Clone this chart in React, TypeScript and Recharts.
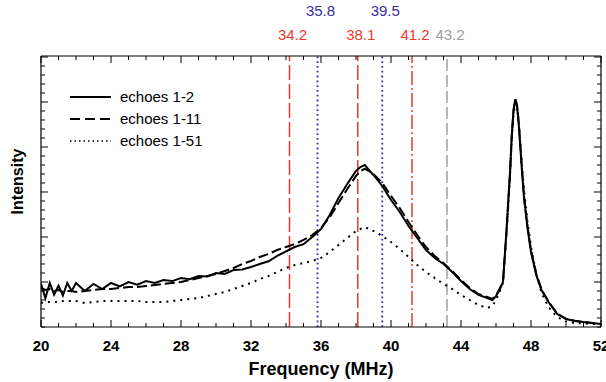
import React from 'react';
import { LineChart, Line, XAxis, YAxis, ReferenceLine, Legend } from 'recharts';

// Frequency grid (MHz)
const frequency = [
  20, 20.25, 20.5, 20.75, 21, 21.25, 21.5, 21.75,
  22, 22.5, 23, 23.5, 24, 24.5, 25, 25.5, 26, 26.5, 27, 27.5, 28, 28.5, 29, 29.5,
  30, 30.5, 31, 31.5, 32, 32.5, 33, 33.5, 34, 34.5, 35, 35.5, 36, 36.5, 37, 37.5, 38,
  38.25, 38.5, 38.75,
  39, 39.5, 40, 40.5, 41, 41.5, 42, 42.5, 43, 43.5, 44, 44.5, 45, 45.5,
  45.8, 46, 46.2, 46.4, 46.6, 46.8, 46.9,
  47, 47.1, 47.2, 47.3, 47.4, 47.5, 47.6, 47.8,
  48, 48.3, 48.6, 49, 49.5, 50, 50.5, 51, 51.5, 52,
];

// Intensity (arbitrary units)
const echoes1to2 = [
  4.8, 3.2, 4.9, 3.6, 4.6, 3.5, 4.9, 4.0,
  4.89, 4.0, 4.78, 4.22, 4.89, 4.5, 5.0, 4.7, 5.11, 4.9, 5.22, 5.1, 5.44, 5.3, 5.67, 5.6,
  6.0, 5.9, 6.33, 6.4, 6.67, 7.0, 7.3, 7.89, 8.4, 8.89, 9.2, 10.0, 10.89, 12.44, 14.33, 15.89, 17.33,
  17.78, 18.0, 17.44,
  16.89, 15.67, 14.11, 12.78, 11.22, 9.89, 8.56, 7.67, 7.0, 6.11, 5.11, 4.22, 3.56, 3.22,
  3.0, 3.44, 4.11, 5.0, 10.8, 17.2, 21.3,
  24.1, 25.3, 24.6, 22.5, 19.67, 16.89, 14.33, 11.0,
  8.33, 5.78, 4.11, 2.78, 1.44, 0.89, 0.67, 0.56, 0.44, 0.33,
];

const echoes1to11 = [
  4.33, 4.11, 4.22, 4.0, 4.11, 3.89, 4.0, 4.0,
  3.89, 4.0, 4.11, 4.22, 4.22, 4.33, 4.44, 4.44, 4.56, 4.67, 4.78, 4.89, 5.0, 5.22, 5.44, 5.67,
  5.89, 6.22, 6.56, 7.0, 7.33, 7.78, 8.11, 8.56, 8.89, 9.22, 9.67, 10.22, 11.0, 12.22, 13.78, 15.33, 16.78,
  17.33, 17.56, 17.33,
  17.0, 16.0, 14.56, 13.22, 11.67, 10.22, 8.89, 7.89, 7.11, 6.22, 5.22, 4.33, 3.67, 3.33,
  3.11, 3.56, 4.22, 5.1, 10.6, 17.0, 21.1,
  24.0, 25.3, 24.7, 22.7, 19.9, 17.1, 14.6, 11.2,
  8.5, 5.9, 4.2, 2.8, 1.5, 0.9, 0.7, 0.56, 0.44, 0.33,
];

const echoes1to51 = [
  2.67, 2.78, 2.78, 2.78, 2.78, 2.89, 2.89, 2.89,
  2.89, 2.67, 2.78, 2.89, 2.89, 2.89, 2.89, 2.89, 2.78, 2.78, 2.78, 2.89, 3.0, 3.11, 3.22, 3.44,
  3.67, 3.89, 4.22, 4.56, 4.89, 5.33, 5.67, 6.11, 6.56, 6.89, 7.11, 7.33, 7.67, 8.33, 9.11, 9.89, 10.67,
  10.89, 11.11, 10.89,
  10.67, 10.11, 9.44, 8.67, 7.78, 6.89, 6.11, 5.44, 4.78, 4.22, 3.56, 3.0, 2.44, 2.11,
  2.33, 3.0, 3.89, 4.9, 10.3, 16.6, 20.8,
  23.6, 24.9, 24.5, 22.8, 20.3, 17.6, 15.2, 11.7,
  8.9, 5.9, 3.8, 2.2, 1.1, 0.6, 0.44, 0.4, 0.33, 0.33,
];

const seriesNames = ['echoes 1-2', 'echoes 1-11', 'echoes 1-51'];

// Marker frequencies (MHz)
const redMarkers = [34.2, 38.1, 41.2];
const blueMarkers = [35.8, 39.5];
const grayMarkers = [43.2];

const xDomain: [number, number] = [20, 52];
const xLabelTicks = [20, 24, 28, 32, 36, 40, 44, 48, 52];
const yDomain: [number, number] = [0, 30.11];

const xTicks: number[] = [];
for (let v = xDomain[0]; v <= xDomain[1]; v += 1) xTicks.push(v);
const yTicks: number[] = [];
for (let v = 0; v <= 30; v += 1) yTicks.push(v);

const data = frequency.map((f, i) => ({
  f,
  a: echoes1to2[i],
  b: echoes1to11[i],
  c: echoes1to51[i],
}));

const FONT = '"Liberation Sans", Arial, Helvetica, sans-serif';
const RED = '#e63b30';
const BLUE = '#3a2ca6';
const GRAY = '#a0a0a0';

const BottomTick = (props: any) => {
  const { x, y, payload } = props;
  const v = payload.value;
  const major = xLabelTicks.includes(v);
  return (
    <g>
      <line x1={x} x2={x} y1={y} y2={y - (major ? 7 : 4)} stroke="#000" strokeWidth={1} />
      {major && (
        <text x={x} y={y + 24} textAnchor="middle" fontSize={15} fontWeight="bold" fontFamily={FONT} fill="#000">
          {v}
        </text>
      )}
    </g>
  );
};

const TopTick = (props: any) => {
  const { x, y, payload } = props;
  const major = xLabelTicks.includes(payload.value);
  return <line x1={x} x2={x} y1={y} y2={y + (major ? 7 : 4)} stroke="#000" strokeWidth={1} />;
};

const LeftTick = (props: any) => {
  const { x, y, payload } = props;
  const major = payload.value % 5 === 0 && payload.value > 0;
  return <line x1={x} x2={x + (major ? 7 : 4)} y1={y} y2={y} stroke="#000" strokeWidth={1} />;
};

const RightTick = (props: any) => {
  const { x, y, payload } = props;
  const major = payload.value % 5 === 0 && payload.value > 0;
  return <line x1={x} x2={x - (major ? 7 : 4)} y1={y} y2={y} stroke="#000" strokeWidth={1} />;
};

const MarkerLabel = (props: any) => {
  const { viewBox, text, color, rise } = props;
  if (!viewBox) return null;
  const top = Math.min(viewBox.y, viewBox.y + (viewBox.height || 0));
  return (
    <text x={viewBox.x + 3} y={top - rise} textAnchor="middle" fontSize={15} fontFamily={FONT} fill={color}>
      {text}
    </text>
  );
};

const YTitle = (props: any) => {
  const { viewBox } = props;
  if (!viewBox) return null;
  const cx = 17;
  const cy = viewBox.y + viewBox.height / 2 - 10;
  return (
    <text
      x={cx}
      y={cy}
      transform={`rotate(-90 ${cx} ${cy})`}
      textAnchor="middle"
      dominantBaseline="central"
      fontSize={16}
      fontWeight="bold"
      fontFamily={FONT}
      fill="#000"
    >
      Intensity
    </text>
  );
};

const XTitle = (props: any) => {
  const { viewBox } = props;
  if (!viewBox) return null;
  return (
    <text
      x={viewBox.x + viewBox.width / 2}
      y={viewBox.y + 48}
      textAnchor="middle"
      fontSize={18}
      fontWeight="bold"
      fontFamily={FONT}
      fill="#000"
    >
      Frequency (MHz)
    </text>
  );
};

const LegendContent = () => {
  const styles = [
    { dash: undefined, width: 2 },
    { dash: '10 5', width: 2 },
    { dash: '1.5 3', width: 1.5 },
  ];
  return (
    <svg width={170} height={70} style={{ display: 'block', overflow: 'visible' }}>
      {seriesNames.map((name, i) => (
        <g key={name}>
          <line
            x1={10}
            x2={51}
            y1={12 + i * 22}
            y2={12 + i * 22}
            stroke="#000"
            strokeWidth={styles[i].width}
            strokeDasharray={styles[i].dash}
          />
          <text x={60} y={12 + i * 22 + 5} fontSize={15} fontFamily={FONT} fill="#000">
            {name}
          </text>
        </g>
      ))}
    </svg>
  );
};

export default function App() {
  return (
    <div style={{ position: 'absolute', left: 0, top: 0, width: 606, height: 382, background: '#fff' }}>
      <LineChart width={606} height={382} data={data} margin={{ top: 55, right: 4, bottom: 0, left: 40 }}>
        <XAxis
          xAxisId="bottom"
          dataKey="f"
          type="number"
          domain={xDomain}
          ticks={xTicks}
          interval={0}
          allowDataOverflow
          height={55}
          tickLine={false}
          tickSize={0}
          tickMargin={0}
          tick={<BottomTick />}
          axisLine={{ stroke: '#000', strokeWidth: 1.2 }}
          label={<XTitle />}
        />
        <XAxis
          xAxisId="top"
          orientation="top"
          dataKey="f"
          type="number"
          domain={xDomain}
          ticks={xTicks}
          interval={0}
          allowDataOverflow
          height={1}
          tickLine={false}
          tickSize={0}
          tickMargin={0}
          tick={<TopTick />}
          axisLine={{ stroke: '#000', strokeWidth: 1.2 }}
        />
        <YAxis
          yAxisId="left"
          type="number"
          domain={yDomain}
          ticks={yTicks}
          interval={0}
          allowDataOverflow
          width={1}
          tickLine={false}
          tickSize={0}
          tickMargin={0}
          tick={<LeftTick />}
          axisLine={{ stroke: '#000', strokeWidth: 1.2 }}
          label={<YTitle />}
        />
        <YAxis
          yAxisId="right"
          orientation="right"
          type="number"
          domain={yDomain}
          ticks={yTicks}
          interval={0}
          allowDataOverflow
          width={1}
          tickLine={false}
          tickSize={0}
          tickMargin={0}
          tick={<RightTick />}
          axisLine={{ stroke: '#000', strokeWidth: 1.2 }}
        />
        {redMarkers.map((m, i) => (
          <ReferenceLine
            key={'r' + m}
            xAxisId="bottom"
            yAxisId="left"
            x={m}
            stroke={RED}
            strokeWidth={1.5}
            strokeDasharray={i === 2 ? '14 3 2 3' : '15 4'}
            label={<MarkerLabel text={m.toFixed(1)} color={RED} rise={16} />}
          />
        ))}
        {blueMarkers.map((m) => (
          <ReferenceLine
            key={'b' + m}
            xAxisId="bottom"
            yAxisId="left"
            x={m}
            stroke={BLUE}
            strokeWidth={1.8}
            strokeDasharray="1.8 3"
            label={<MarkerLabel text={m.toFixed(1)} color={BLUE} rise={40} />}
          />
        ))}
        {grayMarkers.map((m) => (
          <ReferenceLine
            key={'g' + m}
            xAxisId="bottom"
            yAxisId="left"
            x={m}
            stroke={GRAY}
            strokeWidth={1.5}
            strokeDasharray="12 4"
            label={<MarkerLabel text={m.toFixed(1)} color={GRAY} rise={16} />}
          />
        ))}
        <Line
          xAxisId="bottom"
          yAxisId="left"
          dataKey="c"
          name={seriesNames[2]}
          stroke="#000"
          strokeWidth={2}
          strokeDasharray="2 5"
          dot={false}
          isAnimationActive={false}
          type="linear"
        />
        <Line
          xAxisId="bottom"
          yAxisId="left"
          dataKey="b"
          name={seriesNames[1]}
          stroke="#000"
          strokeWidth={2}
          strokeDasharray="10 4"
          dot={false}
          isAnimationActive={false}
          type="linear"
        />
        <Line
          xAxisId="bottom"
          yAxisId="left"
          dataKey="a"
          name={seriesNames[0]}
          stroke="#000"
          strokeWidth={2}
          dot={false}
          isAnimationActive={false}
          type="linear"
        />
        <Legend
          layout="vertical"
          align="center"
          verticalAlign="middle"
          wrapperStyle={{ position: 'absolute', left: 60, top: 85, width: 170, height: 70 }}
          content={<LegendContent />}
        />
      </LineChart>
    </div>
  );
}
